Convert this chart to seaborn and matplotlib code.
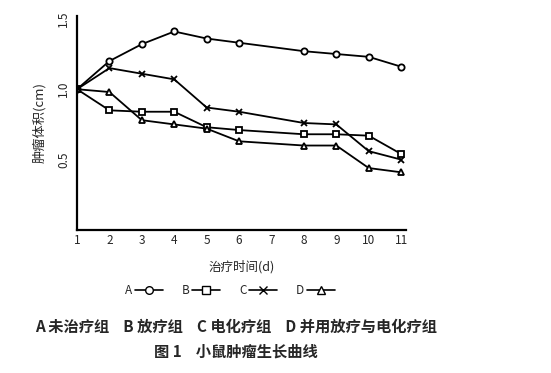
import matplotlib
matplotlib.use("Agg")
import matplotlib.pyplot as plt
import seaborn as sns
import pandas as pd
from matplotlib.lines import Line2D

sns.set_style("white")
plt.rcParams['font.family'] = ['Noto Sans CJK SC', 'DejaVu Sans']

days = [1, 2, 3, 4, 5, 6, 8, 9, 10, 11]
group_a = [1.00, 1.20, 1.32, 1.41, 1.36, 1.33, 1.27, 1.25, 1.23, 1.16]
group_b = [1.00, 0.85, 0.84, 0.84, 0.73, 0.71, 0.68, 0.68, 0.67, 0.54]
group_c = [1.00, 1.15, 1.11, 1.07, 0.87, 0.84, 0.76, 0.75, 0.56, 0.50]
group_d = [1.00, 0.98, 0.78, 0.75, 0.72, 0.63, 0.60, 0.60, 0.44, 0.41]
x_ticks = [1, 2, 3, 4, 5, 6, 7, 8, 9, 10, 11]
y_ticks = [0.5, 1.0, 1.5]
y_tick_labels = ["0.5", "1.0", "1.5"]

groups = ["A", "B", "C", "D"]
markers = {"A": "o", "B": "s", "C": "x", "D": "^"}
values = {"A": group_a, "B": group_b, "C": group_c, "D": group_d}

df = pd.DataFrame([(g, d, v) for g in groups for d, v in zip(days, values[g])],
                  columns=["group", "day", "vol"])

fig = plt.figure(figsize=(5.51, 3.73), dpi=100)
ax = fig.add_axes([77/551, 1-230/373, (406-77)/551, (230-16)/373])

for g in groups:
    sub = df[df.group == g]
    sns.lineplot(data=sub, x="day", y="vol", ax=ax, color="black", lw=1.3,
                 marker=markers[g], markersize=4.5, markerfacecolor="white",
                 markeredgecolor="black", markeredgewidth=1.3, legend=False)

ax.set_xlim(1, 11.15)
ax.set_ylim(0, 1.52)
ax.set_xticks(x_ticks)
ax.set_xticklabels([str(t) for t in x_ticks], fontsize=8.5)
ax.set_yticks(y_ticks)
ax.set_yticklabels(y_tick_labels, fontsize=8.5, rotation=90, va="center")
ax.tick_params(direction="in", length=3, width=1.2, color="black", pad=3)
ax.tick_params(axis="y", pad=5)
for s in ["top", "right"]:
    ax.spines[s].set_visible(False)
for s in ["left", "bottom"]:
    ax.spines[s].set_color("black")
    ax.spines[s].set_linewidth(1.6)
ax.set_xlabel("治疗时间(d)", fontsize=9, labelpad=9)
ax.set_ylabel("肿瘤体积(cm)", fontsize=9.5, labelpad=8)

handles = [Line2D([0], [0], color="black", lw=1.2, marker=markers[g], markersize=5.5,
                  markerfacecolor="white", markeredgecolor="black") for g in groups]
fig.legend(handles, groups, loc="center", bbox_to_anchor=(230/551, 1-291/373),
           ncol=4, frameon=False, markerfirst=False, fontsize=8.5,
           handlelength=2.4, handletextpad=0.2, columnspacing=1.6)

fig.text(236/551, 1-327/373, "A 未治疗组    B 放疗组    C 电化疗组    D 并用放疗与电化疗组",
         ha="center", va="center", fontsize=11, fontweight="bold")
fig.text(236/551, 1-352/373, "图 1    小鼠肿瘤生长曲线",
         ha="center", va="center", fontsize=11, fontweight="bold")

fig.savefig("out.png", dpi=100)
